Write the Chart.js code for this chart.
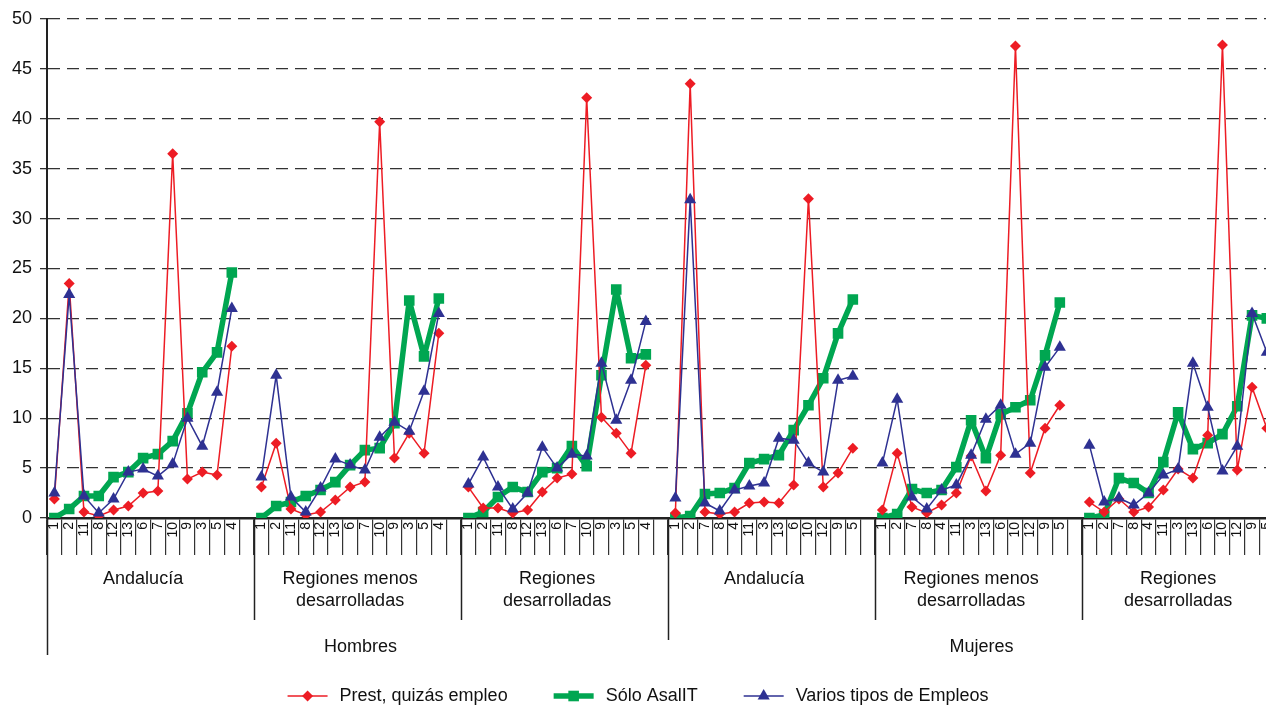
<!DOCTYPE html>
<html>
<head>
<meta charset="utf-8">
<script src="https://cdn.jsdelivr.net/npm/chart.js@4/dist/chart.umd.min.js"></script>
<style>
  html, body { margin: 0; padding: 0; background: #fff; overflow: hidden; }
  #wrap { width: 1300px; height: 708px; }
</style>
</head>
<body>
<div id="wrap"><canvas id="myChart" width="1300" height="708"></canvas></div>
<script>
// category order inside each region group
var ordenHombres = ["1", "2", "11", "8", "12", "13", "6", "7", "10", "9", "3", "5", "4"];
var ordenMujeres = ["1", "2", "7", "8", "4", "11", "3", "13", "6", "10", "12", "9", "5"];
var regiones = [["Andalucía"], ["Regiones menos", "desarrolladas"], ["Regiones", "desarrolladas"]];
var sexos = ["Hombres", "Mujeres"];
var yTicks = [0, 5, 10, 15, 20, 25, 30, 35, 40, 45, 50];

// Prest, quizás empleo
var prestHombres = [
  1.9, 23.5, 0.6, 0.2, 0.8, 1.2, 2.5, 2.7, 36.5, 3.9, 4.6, 4.3, 17.2,
  3.1, 7.5, 0.9, 0.3, 0.6, 1.8, 3.1, 3.6, 39.7, 6.0, 8.5, 6.5, 18.5,
  3.1, 1.0, 1.0, 0.5, 0.8, 2.6, 4.0, 4.4, 42.1, 10.1, 8.5, 6.5, 15.3
];
var prestMujeres = [
  0.5, 43.5, 0.6, 0.4, 0.6, 1.5, 1.6, 1.5, 3.3, 32.0, 3.1, 4.5, 7.0,
  0.8, 6.5, 1.1, 0.5, 1.3, 2.5, 6.2, 2.7, 6.3, 47.3, 4.5, 9.0, 11.3,
  1.6, 0.6, 1.9, 0.6, 1.1, 2.8, 4.9, 4.0, 8.3, 47.4, 4.8, 13.1, 9.0
];
// Sólo AsalIT
var soloHombres = [
  0.0, 0.9, 2.2, 2.2, 4.1, 4.6, 6.0, 6.4, 7.7, 10.5, 14.6, 16.6, 24.6,
  0.0, 1.2, 1.6, 2.2, 2.8, 3.6, 5.3, 6.8, 7.0, 9.5, 21.8, 16.2, 22.0,
  0.0, 0.6, 2.1, 3.1, 2.6, 4.6, 5.0, 7.2, 5.2, 14.3, 22.9, 16.0, 16.4
];
var soloMujeres = [
  0.0, 0.2, 2.4, 2.5, 3.0, 5.5, 5.9, 6.3, 8.8, 11.3, 14.0, 18.5, 21.9,
  0.0, 0.4, 2.9, 2.5, 2.8, 5.1, 9.8, 6.0, 10.4, 11.1, 11.8, 16.3, 21.6,
  0.0, 0.3, 4.0, 3.5, 2.5, 5.6, 10.6, 6.9, 7.5, 8.4, 11.2, 20.3, 20.0
];
// Varios tipos de Empleos
var variosHombres = [
  2.5, 22.4, 2.2, 0.5, 1.9, 4.6, 4.9, 4.2, 5.4, 10.0, 7.2, 12.6, 21.0,
  4.1, 14.3, 2.1, 0.6, 3.0, 5.9, 5.3, 4.8, 8.1, 9.6, 8.7, 12.7, 20.5,
  3.4, 6.1, 3.1, 0.9, 2.5, 7.1, 5.0, 6.4, 6.2, 15.5, 9.8, 13.8, 19.7
];
var variosMujeres = [
  2.0, 31.9, 1.5, 0.7, 2.8, 3.2, 3.5, 8.0, 7.8, 5.5, 4.6, 13.8, 14.2,
  5.5, 11.9, 2.1, 0.9, 2.8, 3.3, 6.3, 9.9, 11.3, 6.4, 7.5, 15.1, 17.1,
  7.3, 1.6, 2.0, 1.3, 2.5, 4.3, 4.9, 15.5, 11.1, 4.7, 7.2, 20.5, 16.6
];

var FONT = "'Liberation Sans', Arial, sans-serif";
var SLOT = 14; // 13 categories + one empty slot per group

// build labels and series with an empty slot after every group
var labels = [];
[ordenHombres, ordenMujeres].forEach(function (orden) {
  regiones.forEach(function () {
    labels = labels.concat(orden, [""]);
  });
});
function withGaps(a, b) {
  var out = [];
  [a, b].forEach(function (arr) {
    for (var i = 0; i < arr.length; i++) {
      out.push(arr[i]);
      if (i % 13 === 12) out.push(null);
    }
  });
  return out;
}

var decor = {
  id: 'decor',
  afterDraw: function (chart) {
    var ctx = chart.ctx, x = chart.scales.x, area = chart.chartArea;
    var step = x.getPixelForValue(1) - x.getPixelForValue(0);
    var edge = function (i) { return x.getPixelForValue(i) - step / 2; };
    var base = area.bottom;
    ctx.save();
    ctx.strokeStyle = '#222';
    ctx.lineWidth = 1.5;
    for (var g = 0; g < 6; g++) {
      var px = Math.round(edge(g * SLOT)) + 0.5;
      var len = g === 0 ? 137 : (g === 3 ? 122 : 102);
      ctx.beginPath();
      ctx.moveTo(px, base);
      ctx.lineTo(px, base + len);
      ctx.stroke();
    }
    ctx.fillStyle = '#111';
    ctx.font = '18px ' + FONT;
    ctx.textAlign = 'center';
    ctx.textBaseline = 'middle';
    for (var s = 0; s < 2; s++) {
      for (var r = 0; r < 3; r++) {
        var g0 = (s * 3 + r) * SLOT;
        var cx = x.getPixelForValue(g0 + 6);
        regiones[r].forEach(function (line, k) {
          ctx.fillText(line, cx, base + 61 + k * 22);
        });
      }
      var sx = (edge(s * 3 * SLOT) + edge((s + 1) * 3 * SLOT)) / 2 + 3;
      ctx.fillText(sexos[s], sx, base + 129);
    }
    // legend
    var ly = base + 178;
    var items = chart.data.datasets;
    var widths = items.map(function (d) { return 52 + ctx.measureText(d.label).width; });
    var gap = 46;
    var total = widths.reduce(function (a, b) { return a + b; }, 0) + gap * (items.length - 1);
    var lx = 638 - total / 2;
    items.forEach(function (d, i) {
      ctx.strokeStyle = d.borderColor;
      ctx.fillStyle = d.borderColor;
      ctx.lineWidth = d.borderWidth;
      ctx.beginPath();
      ctx.moveTo(lx, ly);
      ctx.lineTo(lx + 40, ly);
      ctx.stroke();
      var mx = lx + 20, r = d.pointRadius;
      ctx.beginPath();
      if (d.pointStyle === 'rectRot') {
        ctx.moveTo(mx, ly - r); ctx.lineTo(mx + r, ly); ctx.lineTo(mx, ly + r); ctx.lineTo(mx - r, ly);
      } else if (d.pointStyle === 'rect') {
        var h = r * Math.SQRT1_2;
        ctx.rect(mx - h, ly - h, 2 * h, 2 * h);
      } else {
        ctx.moveTo(mx, ly - r); ctx.lineTo(mx + r * 0.866, ly + r / 2); ctx.lineTo(mx - r * 0.866, ly + r / 2);
      }
      ctx.closePath();
      ctx.fill();
      ctx.fillStyle = '#111';
      ctx.textAlign = 'left';
      ctx.fillText(d.label, lx + 52, ly);
      lx += widths[i] + gap;
    });
    ctx.restore();
  }
};

var ctx = document.getElementById("myChart").getContext('2d');
var myChart = new Chart(ctx, {
  type: 'line',
  data: {
    labels: labels,
    datasets: [{
      label: "Prest, quizás empleo",
      data: withGaps(prestHombres, prestMujeres),
      borderColor: "#ED1C24",
      backgroundColor: "#ED1C24",
      borderWidth: 1.5,
      pointStyle: 'rectRot',
      pointRadius: 5.5,
      pointBorderWidth: 0,
      order: 2
    }, {
      label: "Sólo AsalIT",
      data: withGaps(soloHombres, soloMujeres),
      borderColor: "#00A651",
      backgroundColor: "#00A651",
      borderWidth: 5.5,
      borderJoinStyle: 'round',
      pointStyle: 'rect',
      pointRadius: 7.5,
      pointBorderWidth: 0,
      order: 3
    }, {
      label: "Varios tipos de Empleos",
      data: withGaps(variosHombres, variosMujeres),
      borderColor: "#2E3192",
      backgroundColor: "#2E3192",
      borderWidth: 1.5,
      pointStyle: 'triangle',
      pointRadius: 7,
      pointBorderWidth: 0,
      order: 1
    }]
  },
  options: {
    responsive: false,
    animation: false,
    spanGaps: false,
    layout: { padding: { top: 19, right: 11, left: 0, bottom: 0 } },
    plugins: { legend: { display: false }, tooltip: { enabled: false } },
    elements: { line: { tension: 0 } },
    scales: {
      x: {
        offset: true,
        grid: { offset: true, drawOnChartArea: false, tickLength: 37, color: '#333', lineWidth: 1.2 },
        border: { color: '#222', width: 2.5 },
        ticks: {
          autoSkip: false, minRotation: 90, maxRotation: 90, padding: -33,
          color: '#111', font: { size: 14, family: FONT }
        },
        afterFit: function (s) { s.height = 190; }
      },
      y: {
        min: 0, max: 50,
        afterBuildTicks: function (s) { s.ticks = yTicks.map(function (v) { return { value: v }; }); },
        grid: { color: '#333', lineWidth: 1.3, tickLength: 7 },
        border: { color: '#222', width: 2, dash: [12, 7] },
        ticks: { padding: 8, color: '#111', font: { size: 18, family: FONT } },
        afterFit: function (s) { s.width = 47; }
      }
    }
  },
  plugins: [decor]
});
</script>
</body>
</html>
